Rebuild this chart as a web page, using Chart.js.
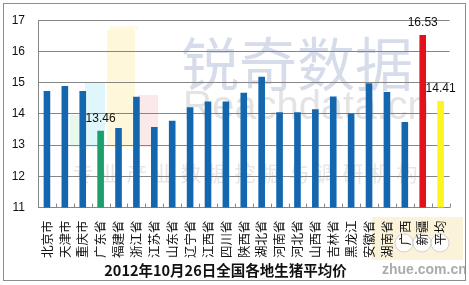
<!DOCTYPE html>
<html>
<head>
<meta charset="utf-8">
<script src="https://cdn.jsdelivr.net/npm/chart.js@4/dist/chart.umd.min.js"></script>
<style>
  html, body { margin: 0; padding: 0; background: #fff; }
  #wrap { width: 469px; height: 285px; }
</style>
</head>
<body>
<div id="wrap"><canvas id="barChart" width="469" height="285"></canvas></div>
<script>
// 各地生猪均价（元/公斤）
const provinces = ['北京市', '天津市', '重庆市', '广东省', '福建省', '浙江省', '江苏省', '山东省', '辽宁省', '江西省', '四川省', '陕西省',
    '湖北省', '河南省', '河北省', '山西省', '吉林省', '黑龙江', '安徽省', '湖南省', '广西', '新疆', '平均'];
const prices = [14.73, 14.89, 14.73, 13.46, 13.55, 14.55, 13.58, 13.78, 14.21, 14.40, 14.40, 14.68,
    15.19, 14.05, 14.05, 14.15, 14.56, 14.01, 14.98, 14.70, 13.74, 16.53, 14.41];
const yTicks = [11, 12, 13, 14, 15, 16, 17];
const labelled = ['广东省', '新疆', '平均'];
const chartTitle = '2012年10月26日全国各地生猪平均价';

const barColors = provinces.map(p => {
    if (p === '广东省') return '#1E9E6A';
    if (p === '新疆') return '#E3111B';
    if (p === '平均') return '#FFF51E';
    return '#1467AE';
});

// 背景水印
const watermark = {
    id: 'watermark',
    beforeDraw(chart) {
        const c = chart.ctx;
        c.save();
        c.fillStyle = '#fff';
        c.fillRect(0, 0, chart.width, chart.height);
        // logo boxes
        c.fillStyle = 'rgba(205,240,215,0.45)'; c.fillRect(70, 115, 15, 32);
        c.fillStyle = 'rgba(185,235,245,0.45)'; c.fillRect(85, 83, 20, 64);
        c.fillStyle = 'rgba(255,240,180,0.5)'; c.fillRect(107, 30, 28, 117);
        c.fillStyle = 'rgba(255,246,210,0.5)'; c.fillRect(110, 26, 28, 4);
        c.fillStyle = 'rgba(246,200,200,0.4)'; c.fillRect(138, 95, 20, 52);
        // texts
        c.textBaseline = 'middle';
        c.fillStyle = 'rgba(200,208,226,0.75)';
        c.font = '58px "Noto Sans CJK SC"';
        c.fillText('锐奇数据', 181, 64);
        c.fillStyle = 'rgba(215,215,215,0.7)';
        c.font = '40px "Liberation Sans"';
        c.fillText('Reachdata.cn', 183, 108);
        c.fillStyle = 'rgba(205,205,205,0.5)';
        c.font = '21px "Noto Sans CJK SC"';
        c.textAlign = 'center';
        const line = '专业产业数据挖掘与调研机构';
        for (let i = 0; i < line.length; i++) c.fillText(line[i], 83 + i * 27, 173);
        // bottom right logo
        c.fillStyle = 'rgba(250,236,202,0.7)';
        c.fillRect(372, 217, 91, 43);
        c.fillStyle = 'rgba(255,255,255,0.9)';
        c.strokeStyle = 'rgba(205,205,205,0.9)';
        [404, 422, 440].forEach(x => { c.beginPath(); c.arc(x, 243, 9, 0, Math.PI * 2); c.fill(); c.stroke(); });
        c.restore();
    },
    afterDraw(chart) {
        const c = chart.ctx;
        const x = chart.scales.x;
        const area = chart.chartArea;
        c.save();
        // small tick marks on the category axis
        c.strokeStyle = '#868686';
        c.lineWidth = 1;
        const step = (x.getPixelForTick(1) - x.getPixelForTick(0));
        for (let i = 0; i <= provinces.length; i++) {
            const px = Math.round(x.getPixelForTick(0) - step / 2 + i * step) + 0.5;
            c.beginPath(); c.moveTo(px, area.bottom); c.lineTo(px, area.bottom - 4); c.stroke();
        }
        // value labels
        const meta = chart.getDatasetMeta(0);
        c.fillStyle = '#111';
        c.font = '12px "Liberation Sans"';
        c.textAlign = 'center';
        c.textBaseline = 'middle';
        provinces.forEach((p, i) => {
            if (!labelled.includes(p)) return;
            const bar = meta.data[i];
            c.fillText(prices[i].toFixed(2), bar.x, bar.y - 12);
        });
        // logo text + outer border
        c.fillStyle = 'rgba(150,150,150,0.8)';
        c.font = 'bold 14px "Liberation Sans"';
        c.textAlign = 'left';
        c.fillText('zhue.com.cn', 382, 270);
        c.strokeStyle = '#8c8c8c';
        c.strokeRect(3.5, 3.5, 462, 277);
        c.restore();
    }
};

const ctx = document.getElementById('barChart').getContext('2d');
const myChart = new Chart(ctx, {
    type: 'bar',
    data: {
        labels: provinces,
        datasets: [{
            data: prices,
            backgroundColor: barColors,
            barPercentage: 0.37,
            categoryPercentage: 1
        }]
    },
    options: {
        responsive: false,
        animation: false,
        layout: { padding: { left: 0, right: 18, top: 12, bottom: 4 } },
        plugins: {
            legend: { display: false },
            tooltip: { enabled: false },
            title: {
                display: true,
                position: 'bottom',
                text: chartTitle,
                color: '#111',
                font: { family: '"Noto Sans CJK SC"', size: 14.5, weight: 'bold' },
                padding: { top: 2, bottom: 2 }
            }
        },
        scales: {
            x: {
                afterFit(scale) { scale.height = 52; },
                grid: { display: false, drawTicks: false },
                border: { display: true, color: '#868686' },
                ticks: {
                    autoSkip: false,
                    minRotation: 90,
                    maxRotation: 90,
                    padding: 13,
                    color: '#111',
                    font: { family: '"Noto Sans CJK SC"', size: 12.5 }
                }
            },
            y: {
                min: 11,
                max: 17,
                afterFit(scale) { scale.width = 38; },
                afterBuildTicks(scale) { scale.ticks = yTicks.map(v => ({ value: v })); },
                grid: { color: '#868686', drawTicks: false },
                border: { display: true, color: '#868686' },
                ticks: {
                    padding: 13,
                    color: '#111',
                    font: { family: '"Liberation Sans"', size: 12 }
                }
            }
        }
    },
    plugins: [watermark]
});
</script>
</body>
</html>
